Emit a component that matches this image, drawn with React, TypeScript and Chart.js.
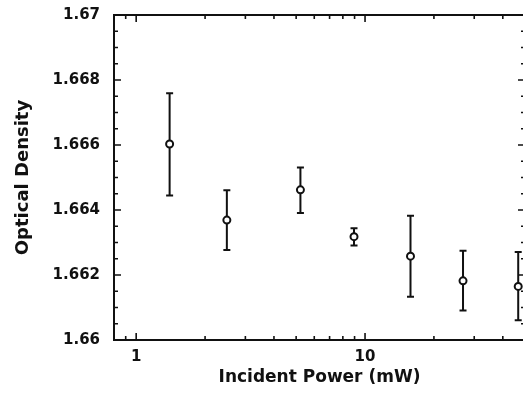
import React, { useEffect, useRef } from 'react';
import { Chart, registerables } from 'chart.js';

Chart.register(...registerables);

// Data
const incidentPower = [1.40, 2.49, 5.22, 8.95, 15.8, 26.8, 46.7];
const opticalDensity = [1.66603, 1.66369, 1.66462, 1.66318, 1.66258, 1.66182, 1.66165];
const errUpper = [1.66759, 1.66461, 1.66531, 1.66344, 1.66382, 1.66275, 1.66271];
const errLower = [1.66445, 1.66277, 1.66391, 1.66291, 1.66133, 1.66091, 1.66061];

// Axis ticks
const xTickValues = [0.8, 0.9, 1, 2, 3, 4, 5, 6, 7, 8, 9, 10, 20, 30, 40, 50];
const xLabelValues = [1, 10];
const yTickValues = [1.66, 1.662, 1.664, 1.666, 1.668, 1.67];
const yMinorValues = [1.6605, 1.661, 1.6615, 1.6625, 1.663, 1.6635, 1.6645, 1.665, 1.6655, 1.6665, 1.667, 1.6675, 1.6685, 1.669, 1.6695];

const X_MIN = 0.8;
const X_MAX = 50;
const Y_MIN = 1.66;
const Y_MAX = 1.67;

const CANVAS_W = 532;
const CANVAS_H = 398;

const FONT = '"DejaVu Sans", sans-serif';

const framePlugin = {
  id: 'frameAndErrors',
  beforeDatasetsDraw(chart: any) {
    const ctx = chart.ctx;
    const xs = chart.scales.x;
    const ys = chart.scales.y;
    ctx.save();
    ctx.strokeStyle = '#111';
    ctx.lineWidth = 2;
    for (let i = 0; i < incidentPower.length; i++) {
      const px = xs.getPixelForValue(incidentPower[i]);
      const pTop = ys.getPixelForValue(errUpper[i]);
      const pBot = ys.getPixelForValue(errLower[i]);
      ctx.beginPath();
      ctx.moveTo(px, pTop);
      ctx.lineTo(px, pBot);
      ctx.moveTo(px - 3.5, pTop);
      ctx.lineTo(px + 3.5, pTop);
      ctx.moveTo(px - 3.5, pBot);
      ctx.lineTo(px + 3.5, pBot);
      ctx.stroke();
    }
    ctx.restore();
  },
  afterDraw(chart: any) {
    const ctx = chart.ctx;
    const { left, right, top, bottom } = chart.chartArea;
    const xs = chart.scales.x;
    const ys = chart.scales.y;
    ctx.save();
    ctx.strokeStyle = '#111';
    ctx.lineWidth = 2;
    ctx.strokeRect(left, top, right - left, bottom - top);
    ctx.lineWidth = 1.6;
    ctx.beginPath();
    for (const v of xTickValues) {
      const px = xs.getPixelForValue(v);
      const major = xLabelValues.includes(v);
      const len = major ? 7 : 4;
      ctx.moveTo(px, bottom);
      ctx.lineTo(px, bottom - len);
      ctx.moveTo(px, top);
      ctx.lineTo(px, top + len);
    }
    for (const v of yTickValues) {
      const py = ys.getPixelForValue(v);
      ctx.moveTo(left, py);
      ctx.lineTo(left + 7, py);
      ctx.moveTo(right, py);
      ctx.lineTo(right - 7, py);
    }
    for (const v of yMinorValues) {
      const py = ys.getPixelForValue(v);
      ctx.moveTo(left, py);
      ctx.lineTo(left + 4, py);
      ctx.moveTo(right, py);
      ctx.lineTo(right - 4, py);
    }
    ctx.stroke();
    ctx.restore();
  },
};

export default function App() {
  const canvasRef = useRef<HTMLCanvasElement | null>(null);

  useEffect(() => {
    if (!canvasRef.current) return;
    const chart = new Chart(canvasRef.current, {
      type: 'scatter',
      data: {
        datasets: [
          {
            data: incidentPower.map((x, i) => ({ x, y: opticalDensity[i] })),
            pointStyle: 'circle',
            pointRadius: 3.5,
            pointBorderWidth: 2,
            pointBorderColor: '#111',
            pointBackgroundColor: '#fff',
            showLine: false,
          },
        ],
      },
      options: {
        animation: false,
        responsive: false,
        devicePixelRatio: 1,
        layout: { padding: { left: 0, top: 15, right: CANVAS_W - 525, bottom: 0 } },
        plugins: { legend: { display: false }, tooltip: { enabled: false } },
        scales: {
          x: {
            type: 'logarithmic',
            position: 'bottom',
            min: X_MIN,
            max: X_MAX,
            afterBuildTicks: (scale: any) => {
              scale.ticks = xTickValues.map((v) => ({ value: v }));
            },
            afterFit: (scale: any) => {
              scale.height = 58;
              scale.paddingLeft = 0;
              scale.paddingRight = 0;
            },
            grid: { display: false, drawTicks: false },
            border: { display: false },
            ticks: {
              autoSkip: false,
              maxRotation: 0,
              padding: 8,
              color: '#111',
              font: { family: FONT, size: 15, weight: 'bold' },
              callback: (v: any) => (xLabelValues.includes(Number(v)) ? String(Number(v)) : ''),
            },
            title: {
              display: true,
              text: 'Incident Power (mW)',
              color: '#111',
              font: { family: FONT, size: 17, weight: 'bold' },
              padding: { top: 0, bottom: 10 },
            },
          },
          y: {
            type: 'linear',
            min: Y_MIN,
            max: Y_MAX,
            afterBuildTicks: (scale: any) => {
              scale.ticks = yTickValues.map((v) => ({ value: v }));
            },
            afterFit: (scale: any) => {
              scale.width = 114;
              scale.paddingTop = 0;
              scale.paddingBottom = 0;
            },
            grid: { display: false, drawTicks: false },
            border: { display: false },
            ticks: {
              padding: 14,
              color: '#111',
              font: { family: FONT, size: 15, weight: 'bold' },
              callback: (v: any) => String(Number(Number(v).toFixed(3))),
            },
            title: {
              display: true,
              text: 'Optical Density',
              color: '#111',
              font: { family: FONT, size: 18, weight: 'bold' },
              padding: { top: 13, bottom: 0 },
            },
          },
        },
      },
      plugins: [framePlugin],
    });
    return () => chart.destroy();
  }, []);

  return (
    <div
      style={{
        position: 'fixed',
        left: 0,
        top: 0,
        width: 523,
        height: 398,
        overflow: 'hidden',
        background: '#fff',
      }}
    >
      <canvas
        ref={canvasRef}
        width={CANVAS_W}
        height={CANVAS_H}
        style={{ display: 'block', width: CANVAS_W, height: CANVAS_H }}
      />
    </div>
  );
}
